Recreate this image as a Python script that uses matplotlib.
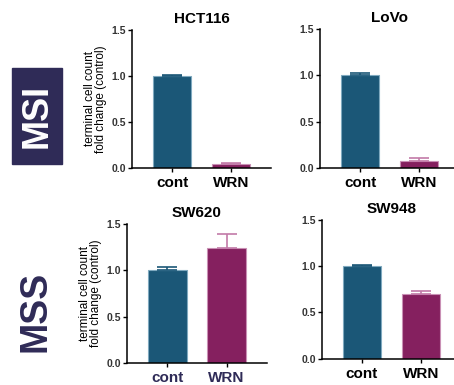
import matplotlib
matplotlib.use("Agg")
import matplotlib.pyplot as plt

plt.rcParams["font.family"] = ["Liberation Sans", "DejaVu Sans"]

# terminal cell count, fold change vs control
cell_lines = ["HCT116", "LoVo", "SW620", "SW948"]
groups = ["cont", "WRN"]
means = {
    "HCT116": [1.00, 0.04],
    "LoVo": [1.00, 0.07],
    "SW620": [1.00, 1.24],
    "SW948": [1.00, 0.70],
}
errors = {
    "HCT116": [0.01, 0.01],
    "LoVo": [0.02, 0.035],
    "SW620": [0.04, 0.15],
    "SW948": [0.01, 0.03],
}
yticks = [0.0, 0.5, 1.0, 1.5]

FILL = ["#1b5777", "#85205f"]
EDGE = ["#7fa9bf", "#c990b5"]
ERR = ["#1b5777", "#c27aa8"]
NAVY = "#2f2b57"

# axes rectangles in figure fractions (left, bottom, width, height)
rects = {
    "HCT116": (0.291, 0.564, 0.306, 0.358),
    "LoVo": (0.705, 0.564, 0.306, 0.361),
    "SW620": (0.280, 0.057, 0.308, 0.361),
    "SW948": (0.709, 0.068, 0.306, 0.361),
}

fig = plt.figure(figsize=(4.54, 3.85), dpi=100)

for name in cell_lines:
    ax = fig.add_axes(rects[name])
    xs = range(len(groups))
    for i in xs:
        ax.bar(i, means[name][i], width=0.65, color=FILL[i], edgecolor=EDGE[i],
               linewidth=0.8, zorder=2)
        ax.errorbar(i, means[name][i], yerr=[[0], [errors[name][i]]], fmt="none",
                    ecolor=ERR[i], elinewidth=1.2, capsize=7.5, capthick=1.2, zorder=3)
    ax.set_xlim(-0.68, 1.68)
    ax.set_ylim(0, 1.5)
    ax.set_yticks(yticks)
    ax.set_yticklabels([f"{v:.1f}" for v in yticks], fontsize=7.5, color="#333333",
                       fontweight="bold")
    ax.set_xticks(list(xs))
    lab_color = NAVY if name == "SW620" else "black"
    ax.set_xticklabels(groups, fontsize=11, fontweight="bold", color=lab_color)
    ax.tick_params(axis="both", length=3, width=1, pad=1.5)
    ax.tick_params(axis="x", pad=3)
    for side in ("top", "right"):
        ax.spines[side].set_visible(False)
    for side in ("left", "bottom"):
        ax.spines[side].set_linewidth(1.1)
    ax.set_title(name, fontsize=11, fontweight="bold", pad=5)
    if name in ("HCT116", "SW620"):
        ax.set_ylabel("terminal cell count\nfold change (control)", fontsize=8.5,
                      linespacing=0.95, labelpad=3)

# row labels
fig.patches.append(plt.Rectangle((12 / 454, 1 - 164 / 385), 50 / 454, 96 / 385,
                                 transform=fig.transFigure, color=NAVY))
fig.text(37 / 454, 1 - 116 / 385, "MSI", rotation=90, ha="center", va="center",
         fontsize=26, fontweight="bold", color="white")
fig.text(36 / 454, 1 - 311 / 385, "MSS", rotation=90, ha="center", va="center",
         fontsize=27, fontweight="bold", color=NAVY)

fig.savefig("out.png", dpi=100)
